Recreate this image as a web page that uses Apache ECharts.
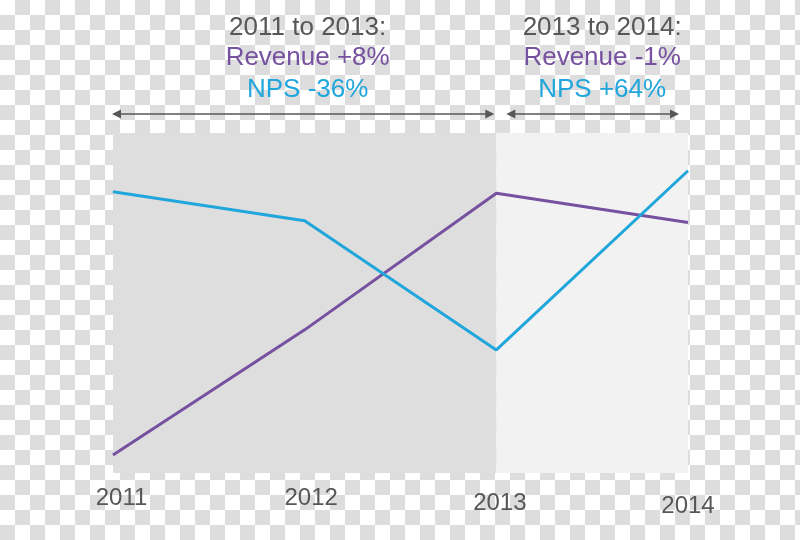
<!DOCTYPE html>
<html>
<head>
<meta charset="utf-8">
<script src="https://cdn.jsdelivr.net/npm/echarts@6/dist/echarts.min.js"></script>
<style>
  html, body { margin: 0; padding: 0; }
  body {
    width: 800px; height: 540px; overflow: hidden;
    background: repeating-conic-gradient(#dddddd 0 25%, #ffffff 0 50%) 0 0 / 30px 30px;
  }
  #chart { width: 800px; height: 540px; }
</style>
</head>
<body>
<div id="chart"></div>
<script>
// Data (indexed scale)
var years = ['2011', '2012', '2013', '2014'];
var revenue = [5.3, 42.1, 82.3, 73.7];
var nps = [82.7, 74.2, 36.2, 88.9];
var periodTitles = ['2011 to 2013:', '2013 to 2014:'];
var periodRevenue = ['Revenue +8%', 'Revenue -1%'];
var periodNps = ['NPS -36%', 'NPS +64%'];
var periodBounds = [['2011', '2013'], ['2013', '2014']];

var PURPLE = '#76519f';
var BLUE = '#21a6dc';
var GREY = '#575757';
var FONT = 'Arial, "Liberation Sans", sans-serif';

var chart = echarts.init(document.getElementById('chart'), null, { renderer: 'canvas' });

var labelRich = {
  l0: { padding: [0, 0, 0, 17] },
  l1: { padding: [0, 0, 0, 13] },
  l2: { padding: [5, 0, 0, 7] },
  l3: { padding: [8, 0, 0, 0] }
};
Object.keys(labelRich).forEach(function (k) {
  labelRich[k].fontSize = 24;
  labelRich[k].color = GREY;
  labelRich[k].fontFamily = FONT;
});

chart.setOption({
  backgroundColor: 'transparent',
  animation: false,
  grid: { left: 113, right: 112, top: 133, bottom: 67 },
  xAxis: {
    type: 'category',
    data: years,
    boundaryGap: false,
    axisLine: { show: false },
    axisTick: { show: false },
    splitLine: { show: false },
    axisLabel: {
      margin: 13,
      fontSize: 24,
      color: GREY,
      fontFamily: FONT,
      formatter: function (v, i) { return '{l' + i + '|' + v + '}'; },
      rich: labelRich
    }
  },
  yAxis: {
    type: 'value',
    min: 0,
    max: 100,
    show: false,
    splitLine: { show: false }
  },
  series: [
    {
      name: 'Revenue',
      type: 'line',
      data: revenue,
      symbol: 'none',
      lineStyle: { color: PURPLE, width: 3 },
      z: 3,
      markArea: {
        silent: true,
        data: [
          [{ xAxis: periodBounds[0][0], itemStyle: { color: '#dedede' } }, { xAxis: periodBounds[0][1] }],
          [{ xAxis: periodBounds[1][0], itemStyle: { color: '#f2f2f2' } }, { xAxis: periodBounds[1][1] }]
        ]
      }
    },
    {
      name: 'NPS',
      type: 'line',
      data: nps,
      symbol: 'none',
      lineStyle: { color: BLUE, width: 3 },
      z: 4
    }
  ]
});

function px(cat) { return chart.convertToPixel({ xAxisIndex: 0 }, cat); }

function arrow(x1, x2, y) {
  var h = 9, w = 4.5;
  return [
    { type: 'line', shape: { x1: x1 + h - 1, y1: y, x2: x2 - h + 1, y2: y }, style: { stroke: GREY, lineWidth: 1.6 }, silent: true },
    { type: 'polygon', shape: { points: [[x1, y], [x1 + h, y - w], [x1 + h, y + w]] }, style: { fill: GREY }, silent: true },
    { type: 'polygon', shape: { points: [[x2, y], [x2 - h, y - w], [x2 - h, y + w]] }, style: { fill: GREY }, silent: true }
  ];
}

var elems = [];
var gridTop = 133;
var arrowY = gridTop - 19;
var textOffsets = [3, 10];
var arrowInsets = [[-1, 2], [10, 9]];
for (var p = 0; p < periodBounds.length; p++) {
  var xa = px(periodBounds[p][0]);
  var xb = px(periodBounds[p][1]);
  var cx = (xa + xb) / 2 + textOffsets[p];
  elems = elems.concat(arrow(xa + arrowInsets[p][0], xb - arrowInsets[p][1], arrowY));
  var lines = [[periodTitles[p], GREY, 27.5], [periodRevenue[p], PURPLE, 58], [periodNps[p], BLUE, 89.5]];
  lines.forEach(function (l) {
    elems.push({
      type: 'text',
      silent: true,
      style: {
        text: l[0], x: cx, y: l[2],
        align: 'center', verticalAlign: 'middle',
        font: '26px ' + FONT, fill: l[1]
      }
    });
  });
}
chart.setOption({ graphic: { elements: elems } });
</script>
</body>
</html>
